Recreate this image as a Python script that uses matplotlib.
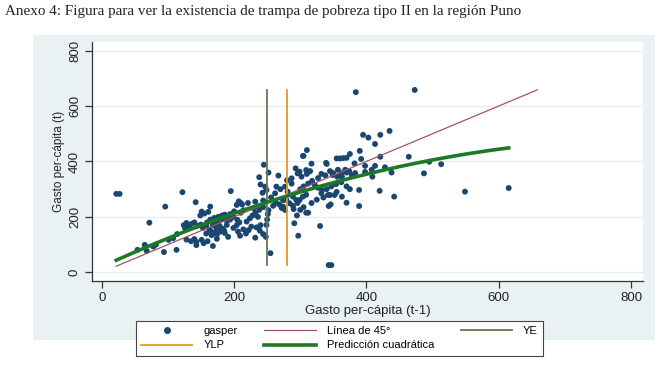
import numpy as np
import matplotlib
matplotlib.use("Agg")
import matplotlib.pyplot as plt
from matplotlib.lines import Line2D

# ---- data ----
gasper_lag = [
    22, 27, 54, 65, 68, 72, 78, 82, 94, 96, 101, 108, 113, 114, 122,
    124, 128, 132, 136, 140, 145, 150, 126, 131,
    128, 135, 140, 143,
    142, 143, 151, 151, 154, 160, 168, 164, 174,
    149, 155, 161,
    159, 164, 170, 176, 182, 188, 194, 199,
    153, 158, 163, 168, 173, 178, 183, 189,
    158, 166, 174, 180, 186,
    164, 172, 178, 185, 191,
    174, 181, 186, 179, 189,
    195,
    199, 204, 208, 206, 209, 214, 218, 222, 226,
    194, 200, 205, 210, 214,
    204, 207, 210, 212,
    219, 224, 228, 232, 236,
    221, 232, 244,
    234, 232, 239, 240, 244, 248,
    230, 238, 244,
    249, 250, 251, 252,
    255,
    238, 240, 243, 245, 247, 249, 252, 264, 267, 277,
    259, 263, 268, 272, 277,
    256, 262, 270, 274, 279, 284, 289, 294, 274, 281, 287, 280, 287, 289, 296,
    299, 304, 309, 290, 300, 305, 309, 312, 317, 295, 291, 297,
    299, 309, 304, 317,
    300, 305, 312, 318, 302, 310, 315, 296, 293,
    327, 332, 338, 345, 350, 357, 363, 370, 378, 340, 349, 356, 362, 368, 374,
    383, 398, 408,
    322, 327, 333, 340, 347, 354, 362, 370,
    339, 355, 360, 365, 370, 375, 390, 392, 382, 398, 413,
    330, 343, 347,
    342, 345, 352, 343, 346, 363, 370, 389, 389,
    335, 355, 375, 325, 332,
    384, 395, 403, 413, 421, 435, 473,
    409, 420, 421, 428, 438, 442, 464, 487, 495, 513, 549, 615,
    310, 305,
]
gasper = [
    283, 283, 81, 99, 77, 179, 93, 100, 73, 237, 117, 123, 81, 138, 289,
    170, 178, 165, 175, 180, 168, 172, 159, 165,
    118, 112, 120, 110,
    253, 98, 117, 219, 105, 112, 95, 237, 121,
    205, 212, 218,
    180, 190, 196, 200, 205, 195, 190, 200,
    160, 166, 153, 171, 160, 168, 157, 171,
    140, 134, 136, 147, 142,
    150, 145, 155, 150, 128,
    183, 192, 208, 198, 186,
    293,
    160, 170, 180, 147, 132, 155, 140, 152, 165,
    210, 220, 189, 215, 224,
    243, 256, 250, 245,
    183, 195, 205, 213, 200,
    250, 255, 259,
    162, 125, 150, 170, 138, 128,
    230, 225, 235,
    171, 190, 210, 224,
    69,
    343, 317, 287, 388, 309, 297, 360, 309, 349, 309,
    240, 252, 245, 232, 225,
    270, 285, 300, 260, 262, 249, 273, 261, 237, 291, 320, 332, 339, 240, 250,
    261, 273, 280, 228, 225, 235, 215, 215, 250, 205, 177, 132,
    363, 369, 420, 392,
    300, 310, 320, 330, 345, 355, 365, 357, 375,
    340, 355, 350, 365, 358, 370, 345, 360, 350, 391, 351, 345, 358, 370, 365,
    358, 362, 370,
    315, 305, 297, 300, 310, 318, 325, 310,
    395, 411, 411, 412, 413, 427, 438, 409, 393, 384, 384,
    167, 26, 26,
    279, 279, 279, 239, 245, 273, 251, 297, 239,
    270, 290, 300, 262, 285,
    650, 496, 486, 463, 496, 510, 658,
    345, 294, 417, 379, 360, 273, 417, 357, 399, 390, 291, 304,
    441, 420,
]
ye_value = 250
ylp_value = 280
# quadratic prediction (c2, c1, c0)
qfit_coef = [-0.00064, 1.091, 20.0]
x_ticks = [0, 200, 400, 600, 800]
y_ticks = [0, 200, 400, 600, 800]

x = np.array(gasper_lag, dtype=float)
y = np.array(gasper, dtype=float)

# ---- figure ----
fig = plt.figure(figsize=(6.61, 3.72), dpi=100)
fig.patch.set_facecolor("white")

W, H = 661.0, 372.0
def fx(px): return px / W
def fy(py): return 1 - py / H

# Stata graph region background (separate axes, behind)
bgax = fig.add_axes([fx(33), fy(340), fx(655) - fx(33), fy(35) - fy(340)], zorder=-1)
bgax.set_facecolor("#eaf1f3")
bgax.set_xticks([]); bgax.set_yticks([])
for sp in bgax.spines.values():
    sp.set_visible(False)

fig.text(fx(5), fy(12), "Anexo 4: Figura para ver la existencia de trampa de pobreza tipo II en la región Puno",
         family="Liberation Serif", fontsize=10.9, va="center", ha="left", color="#222222")

ax = fig.add_axes([fx(92), fy(280.5), fx(643) - fx(92), fy(42) - fy(280.5)], zorder=1)
ax.set_facecolor("white")
ax.set_xlim(-14.7, 818)
ax.set_ylim(-29.6, 831)

for sp in ["top", "right"]:
    ax.spines[sp].set_visible(False)
for sp in ["left", "bottom"]:
    ax.spines[sp].set_color("#333333")
    ax.spines[sp].set_linewidth(0.9)

ax.set_yticks(y_ticks)
ax.set_xticks(x_ticks)
ax.grid(axis="y", color="#e6eef1", linewidth=0.9, zorder=0)
ax.set_axisbelow(True)
ax.tick_params(axis="both", direction="out", length=5, width=0.9, color="#333333",
               labelsize=9.5, labelcolor="#222222")
for lab in ax.get_xticklabels():
    lab.set_family("Liberation Sans")
for lab in ax.get_yticklabels():
    lab.set_family("Liberation Sans")
    lab.set_rotation(90)
    lab.set_va("center")
ax.tick_params(axis="x", pad=3)
ax.tick_params(axis="y", pad=3)

# scatter
ax.scatter(x, y, s=18, color="#1a476f", edgecolors="none", zorder=3)

# 45-degree line from min x to max y
l45_x = np.array([x.min(), y.max()])
l45, = ax.plot(l45_x, l45_x, color="#a0565c", lw=0.9, zorder=4)

# vertical lines from min y to max y
ye, = ax.plot([ye_value, ye_value], [y.min(), y.max()], color="#647a50", lw=1.3, zorder=4)
ylp, = ax.plot([ylp_value, ylp_value], [y.min(), y.max()], color="#e39a2a", lw=1.3, zorder=4)

# quadratic prediction over the data range
xq = np.linspace(x.min(), x.max(), 200)
qf, = ax.plot(xq, np.polyval(qfit_coef, xq), color="#1b7a22", lw=2.6, zorder=5)

ax.set_xlabel("Gasto per-cápita (t-1)", family="Liberation Sans", fontsize=9.5, labelpad=1, color="#222222")
ax.set_ylabel("Gasto per-cápita (t)", family="Liberation Sans", fontsize=8.5, labelpad=3, color="#222222")

# legend (Stata-like, row order gasper, Linea, YE / YLP, Prediccion)
h_g = Line2D([], [], marker="o", ls="none", color="#1a476f", markersize=4)
handles = [h_g, ylp, l45, qf, ye]
labels = ["gasper", "YLP", "Línea de 45°", "Predicción cuadrática", "YE"]
leg = fig.legend(handles, labels, ncol=3, loc="center",
                 bbox_to_anchor=(fx(339.5), fy(338)), frameon=True, fancybox=False,
                 edgecolor="#444444", facecolor="white", framealpha=1,
                 prop={"family": "Liberation Sans", "size": 8},
                 handlelength=4.6, columnspacing=2.4, handletextpad=1.0,
                 labelspacing=0.45, borderpad=0.45)
leg.get_frame().set_linewidth(0.8)

fig.savefig("out.png", dpi=100, facecolor="white")
